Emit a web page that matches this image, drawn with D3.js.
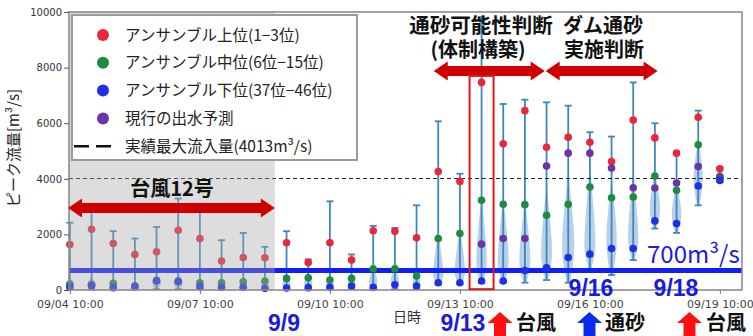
<!DOCTYPE html>
<html><head><meta charset="utf-8">
<script src="https://cdn.jsdelivr.net/npm/d3@7"></script>
<style>body{margin:0;background:#fff}svg{display:block}</style>
</head><body><svg id="c" width="753" height="336"></svg>
<script>
// ---------------- data ----------------
const times = ["09/04 10:00","09/04 22:00","09/05 10:00","09/05 22:00","09/06 10:00","09/06 22:00",
  "09/07 10:00","09/07 22:00","09/08 10:00","09/08 22:00","09/09 10:00","09/09 22:00",
  "09/10 10:00","09/10 22:00","09/11 10:00","09/11 22:00","09/12 10:00","09/12 22:00",
  "09/13 10:00","09/13 22:00","09/14 10:00","09/14 22:00","09/15 10:00","09/15 22:00",
  "09/16 10:00","09/16 22:00","09/17 10:00","09/17 22:00","09/18 10:00","09/18 22:00","09/19 10:00"];
const maxV   = [2420,2900,2115,1852,2270,3290,2900,1792,2054,1553,2115,1100,3190,1278,2306,2234,3046,6069,4182,9820,6691,6846,6751,6631,5675,5520,7467,5998,4982,6452,4420];
const minV   = [30,30,30,30,30,30,30,30,30,30,30,30,30,30,30,30,30,200,220,250,263,263,358,263,750,538,1075,2210,2054,3046,3882];
const redV   = [1638,2186,1673,1278,1374,2150,1852,1039,1171,1159,1697,992,1697,1075,2127,2115,1876,4265,3907,7467,5257,6452,5137,5496,5317,4624,6117,5472,4922,6213,4361];
const greenV = [215,200,240,150,350,320,263,263,298,322,418,442,358,418,765,765,502,1852,2031,3226,3082,3070,2688,3082,3703,3321,3345,4098,3584,5221,4086];
const blueV  = [120,155,83,120,322,300,120,100,100,60,70,84,96,143,96,191,143,263,263,322,322,700,800,1171,1290,1493,1493,2485,2389,3739,3943];
const purpleV= [null,null,null,null,null,null,null,null,null,null,null,null,null,null,null,null,null,null,null,1649,1852,1852,4456,4922,4922,4385,3679,3667,3847,4444,4050];
// violin shape: top of the density, value of max density, relative density
const vTop   = [450,500,450,350,550,550,450,450,450,500,600,600,550,600,900,900,750,2100,2300,3400,3300,3300,3800,4200,4500,4000,4300,4300,3900,5400,4300];
const vPeak  = [150,200,150,120,300,300,200,150,150,200,200,250,200,200,300,350,250,600,700,1200,1200,1200,1500,1800,1800,2000,2000,3000,2800,4200,4050];
const vDens  = [0.65,0.7,0.65,0.6,0.7,0.7,0.65,0.6,0.6,0.6,0.65,0.65,0.6,0.6,0.65,0.65,0.6,0.8,0.8,0.8,0.85,0.85,0.85,0.95,0.85,0.8,0.8,0.8,0.75,0.7,0.4];
const yTicks = [0,2000,4000,6000,8000,10000];
const xTicks = ["09/04 10:00","09/07 10:00","09/10 10:00","09/13 10:00","09/16 10:00","09/19 10:00"];
const recordMax = 4013;
const sedimentFlow = 700;
const typhoonPeriod = ["09/04 09:30","09/09 03:30"];
const judgePeriods = [["09/12 19:30","09/15 09:00"],["09/15 09:30","09/17 23:30"]];
const highlightTime = "09/13 22:00";
const legendItems = [
  {label:"アンサンブル上位(1−3位)", color:"#e8283a", type:"dot"},
  {label:"アンサンブル中位(6位−15位)", color:"#1e8c3e", type:"dot"},
  {label:"アンサンブル下位(37位−46位)", color:"#1f2fe8", type:"dot"},
  {label:"現行の出水予測", color:"#6b34a8", type:"dot"},
  {label:"実績最大流入量(4013m³/s)", color:"#111", type:"dash"}
];

// ---------------- scales ----------------
const parse = d3.timeParse("%Y/%m/%d %H:%M");
const P = s => parse("2018/" + s);
const dates = times.map(P);
const L = 69, R = 742, T = 12, B = 290;
const x = d3.scaleTime().domain([P("09/04 09:30"), P("09/19 22:15")]).range([L, R]);
const y = d3.scaleLinear().domain([0, 10000]).range([B, T]);
const wScale = d3.scaleLinear().domain([0, 1]).range([0, 7]);

const svg = d3.select("#c");
svg.append("rect").attr("width",753).attr("height",336).attr("fill","#fff");

const plot = svg.append("g");
// violins
const violinArea = d3.area().curve(d3.curveBasis)
  .y(d => y(d.v)).x0(d => d.cx - d.w).x1(d => d.cx + d.w);
times.forEach((t,i) => {
  const cx = x(dates[i]); const W = wScale(vDens[i]);
  const mn = Math.max(0, minV[i]);
  const pts = [
    {v: mn, w: W*0.25}, {v: mn, w: W*0.25}, {v:(mn+vPeak[i])/2, w: W*0.85}, {v: vPeak[i], w: W},
    {v:(vPeak[i]+vTop[i])/2, w: W*0.55}, {v: vTop[i], w: 0}, {v: vTop[i], w: 0}
  ].map(p => ({...p, cx}));
  plot.append("path").attr("d", violinArea(pts)).attr("fill","#a9c9e4").attr("opacity",0.85);
});
// whiskers
const wh = plot.append("g").attr("stroke","#3f86bf").attr("stroke-width",1.8);
times.forEach((t,i) => {
  const cx = x(dates[i]);
  wh.append("line").attr("x1",cx).attr("x2",cx).attr("y1",y(minV[i])).attr("y2",y(maxV[i]));
  wh.append("line").attr("x1",cx-3.5).attr("x2",cx+3.5).attr("y1",y(maxV[i])).attr("y2",y(maxV[i]));
  wh.append("line").attr("x1",cx-3.5).attr("x2",cx+3.5).attr("y1",y(minV[i])).attr("y2",y(minV[i]));
});
// record max dashed line
plot.append("line").attr("x1",L).attr("x2",R).attr("y1",y(recordMax)).attr("y2",y(recordMax))
  .attr("stroke","#222").attr("stroke-width",1.1).attr("stroke-dasharray","4,3");
// 700 line
plot.append("line").attr("x1",L).attr("x2",R).attr("y1",y(sedimentFlow)).attr("y2",y(sedimentFlow))
  .attr("stroke","#1020f5").attr("stroke-width",5);
// dots
const series = [[redV,"#e8283a"],[greenV,"#1e8c3e"],[purpleV,"#6b34a8"],[blueV,"#1f2fe8"]];
series.forEach(([arr,col]) => {
  plot.append("g").selectAll("circle").data(arr.map((v,i)=>({v,i})).filter(d=>d.v!=null))
    .join("circle").attr("cx",d=>x(dates[d.i])).attr("cy",d=>y(d.v)).attr("r",3.8).attr("fill",col);
});
// typhoon shaded period (overlay)
svg.append("rect").attr("x",x(P(typhoonPeriod[0]))).attr("y",T)
  .attr("width",x(P(typhoonPeriod[1]))-x(P(typhoonPeriod[0]))).attr("height",B-T)
  .attr("fill","#a6a6a6").attr("opacity",0.38);

// frame
svg.append("rect").attr("x",L).attr("y",T).attr("width",R-L).attr("height",B-T)
  .attr("fill","none").attr("stroke","#8c8c8c").attr("stroke-width",1.6);

// axes
const yAxis = svg.append("g").attr("transform",`translate(${L},0)`)
  .call(d3.axisLeft(y).tickValues(yTicks).tickSize(5).tickPadding(2).tickFormat(d3.format("d")));
yAxis.select(".domain").remove();
yAxis.selectAll("text").attr("font-family","DejaVu Sans").attr("font-size",10).attr("fill","#333");
yAxis.selectAll("line").attr("stroke","#555");
const xAxis = svg.append("g").attr("transform",`translate(0,${B})`)
  .call(d3.axisBottom(x).tickValues(xTicks.map(P)).tickSize(4).tickPadding(6).tickFormat(d3.timeFormat("%m/%d %H:%M")));
xAxis.select(".domain").remove();
xAxis.selectAll("text").attr("font-family","DejaVu Sans").attr("font-size",11).attr("fill","#444");
xAxis.selectAll("line").attr("stroke","#777");

const JP = "'Noto Sans CJK JP'";
svg.append("text").attr("transform","translate(19,148) rotate(-90)").attr("text-anchor","middle")
  .attr("font-family",JP).attr("font-size",15).attr("fill","#222").text("ピーク流量[m³/s]");
svg.append("text").attr("x",407).attr("y",322).attr("text-anchor","middle")
  .attr("font-family",JP).attr("font-size",14).attr("fill","#333").text("日時");

// legend
const lg = svg.append("g");
lg.append("rect").attr("x",72).attr("y",15).attr("width",285).attr("height",145)
  .attr("fill","#fff").attr("stroke","#9a9a9a").attr("stroke-width",2);
legendItems.forEach((d,k) => {
  const yy = 35 + k*27.8;
  if (d.type === "dot") lg.append("circle").attr("cx",103).attr("cy",yy).attr("r",6).attr("fill",d.color);
  else lg.append("line").attr("x1",74).attr("x2",112).attr("y1",yy).attr("y2",yy)
      .attr("stroke",d.color).attr("stroke-width",2.6).attr("stroke-dasharray","15,7");
  lg.append("text").attr("x",125).attr("y",yy+5.5).attr("font-family",JP).attr("font-size",15.5)
    .attr("fill","#222").text(d.label);
});

// annotations
function hArrow(x1, x2, yc, col) {
  const sh = 5, hh = 9.5, hl = 14;
  const d = `M${x1},${yc} L${x1+hl},${yc-hh} L${x1+hl},${yc-sh} L${x2-hl},${yc-sh} L${x2-hl},${yc-hh} L${x2},${yc} L${x2-hl},${yc+hh} L${x2-hl},${yc+sh} L${x1+hl},${yc+sh} L${x1+hl},${yc+hh} Z`;
  svg.append("path").attr("d",d).attr("fill",col);
}
function upArrow(cx, tip, bottom, col) {
  const hw = 12.5, sw = 6, hh = 11;
  const d = `M${cx},${tip} L${cx+hw},${tip+hh} L${cx+sw},${tip+hh} L${cx+sw},${bottom} L${cx-sw},${bottom} L${cx-sw},${tip+hh} L${cx-hw},${tip+hh} Z`;
  svg.append("path").attr("d",d).attr("fill",col);
}
hArrow(x(P(typhoonPeriod[0]))-1, x(P(typhoonPeriod[1])), 208, "#d00000");
hArrow(x(P(judgePeriods[0][0])), x(P(judgePeriods[0][1])), 71, "#d00000");
hArrow(x(P(judgePeriods[1][0])), x(P(judgePeriods[1][1])), 71, "#d00000");

const bold = (t, xx, yy, size, col, anchor="middle", fam=JP) =>
  svg.append("text").attr("x",xx).attr("y",yy).attr("text-anchor",anchor).attr("font-family",fam)
    .attr("font-weight","bold").attr("font-size",size).attr("fill",col).text(t);
bold("台風12号", 172, 196, 20, "#111");
bold("通砂可能性判断", 481, 33, 20.5, "#111");
bold("(体制構築)", 478, 57, 20, "#111");
bold("ダム通砂", 603, 33, 20, "#111");
bold("実施判断", 604, 57, 20, "#111");

// highlight rectangle
const hx = x(P(highlightTime));
svg.append("rect").attr("x",hx-12).attr("y",y(7700)).attr("width",24).attr("height",y(30)-y(7700))
  .attr("fill","none").attr("stroke","#e01818").attr("stroke-width",2);

svg.append("text").attr("x",647).attr("y",263).attr("font-family",JP).attr("font-size",24)
  .attr("fill","#1a1ae0").text("700m³/s");

const LS = "'Liberation Sans'";
bold("9/9", 284, 331, 23, "#1a1ae0", "middle", LS);
bold("9/13", 463, 331, 23, "#1a1ae0", "middle", LS);
bold("9/16", 591, 296, 23, "#1a1ae0", "middle", LS);
bold("9/18", 676, 296, 23, "#1a1ae0", "middle", LS);
upArrow(500, 312, 336, "#ff1010");
upArrow(589.5, 312, 336, "#0a2af0");
upArrow(689.5, 312, 336, "#ff1010");
bold("台風", 516, 330, 20, "#111", "start");
bold("通砂", 605, 330, 20, "#111", "start");
bold("台風", 706, 330, 20, "#111", "start");
</script></body></html>
